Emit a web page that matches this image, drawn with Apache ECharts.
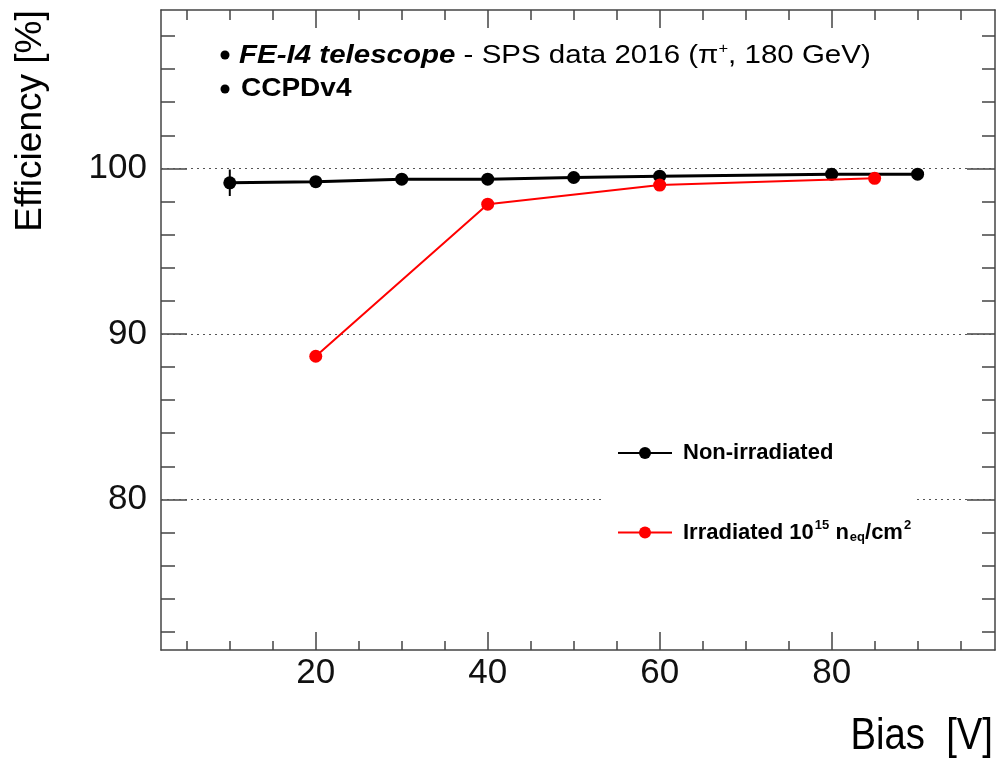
<!DOCTYPE html>
<html>
<head>
<meta charset="utf-8">
<script src="https://cdn.jsdelivr.net/npm/echarts@6/dist/echarts.min.js"></script>
<style>
  html, body { margin: 0; padding: 0; background: #fff; }
  #chart { width: 996px; height: 760px; }
</style>
</head>
<body>
<div id="chart"></div>
<script>
// ---- Data ----
const nonIrrBias = [10, 20, 30, 40, 50, 60, 80, 90];
const nonIrrEff  = [99.13, 99.2, 99.35, 99.35, 99.45, 99.53, 99.65, 99.65];
const nonIrrErr  = [0.8, 0.08, 0.08, 0.08, 0.08, 0.08, 0.08, 0.08];

const irrBias = [20, 40, 60, 85];
const irrEff  = [88.65, 97.84, 98.99, 99.4];
const irrErr  = [0.15, 0.12, 0.1, 0.1];

const xMajorTicks = [20, 40, 60, 80];
const xMinorTicks = [5, 10, 15, 25, 30, 35, 45, 50, 55, 65, 70, 75, 85, 90, 95];
const yMajorTicks = [80, 90, 100];
const yMinorTicks = [72, 74, 76, 78, 82, 84, 86, 88, 92, 94, 96, 98, 102, 104, 106, 108];
const gridValues  = [80, 90, 100];

const nameNon = 'Non-irradiated';
const nameIrr = 'Irradiated 10^15 n_eq/cm^2';

// ---- Chart ----
const chart = echarts.init(document.getElementById('chart'), null, { renderer: 'canvas' });
const FONT = "'Liberation Sans', Arial, Helvetica, sans-serif";
const AX = '#444';
const X_MIN = 2, X_MAX = 99, Y_MIN = 70.9, Y_MAX = 109.57;

function xAxisDef(position, ticks, len, labels, line) {
  return {
    type: 'value', position: position, min: X_MIN, max: X_MAX,
    axisLine: { show: line, onZero: false, lineStyle: { color: AX, width: 1.5 } },
    axisTick: { show: true, inside: true, length: len, customValues: ticks, lineStyle: { color: AX, width: 1.5 } },
    axisLabel: labels ? { show: true, customValues: ticks, fontFamily: FONT, fontSize: 35, color: '#111', margin: 6 } : { show: false },
    splitLine: { show: false }
  };
}
function yAxisDef(position, ticks, len, labels, line) {
  return {
    type: 'value', position: position, min: Y_MIN, max: Y_MAX,
    axisLine: { show: line, onZero: false, lineStyle: { color: AX, width: 1.5 } },
    axisTick: { show: true, inside: true, length: len, customValues: ticks, lineStyle: { color: AX, width: 1.5 } },
    axisLabel: labels ? { show: true, customValues: ticks, fontFamily: FONT, fontSize: 35, color: '#111', margin: 14 } : { show: false },
    splitLine: { show: false }
  };
}

function errorSeries(xs, ys, es, color) {
  return {
    type: 'custom', xAxisIndex: 0, yAxisIndex: 0, silent: true, z: 3,
    data: xs.map((x, i) => [x, ys[i] - es[i], ys[i] + es[i]]),
    renderItem: function (params, api) {
      const lo = api.coord([api.value(0), api.value(1)]);
      const hi = api.coord([api.value(0), api.value(2)]);
      return { type: 'line', shape: { x1: lo[0], y1: lo[1], x2: hi[0], y2: hi[1] }, style: { stroke: color, lineWidth: 2 } };
    }
  };
}

const option = {
  backgroundColor: '#fff',
  animation: false,
  grid: { left: 161, right: 1, top: 10, bottom: 110, containLabel: false },
  xAxis: [
    xAxisDef('bottom', xMajorTicks, 18, true, true),
    xAxisDef('bottom', xMinorTicks, 9, false, false),
    xAxisDef('top', xMajorTicks, 18, false, true),
    xAxisDef('top', xMinorTicks, 10, false, false)
  ],
  yAxis: [
    yAxisDef('left', yMajorTicks, 26, true, true),
    yAxisDef('left', yMinorTicks, 14, false, false),
    yAxisDef('right', yMajorTicks, 28, false, true),
    yAxisDef('right', yMinorTicks, 13, false, false)
  ],
  legend: {
    data: [nameNon, nameIrr],
    orient: 'vertical',
    left: 605, top: 432, z: 10,
    padding: [10, 2, 10, 12],
    itemGap: 55,
    itemWidth: 54, itemHeight: 15,
    backgroundColor: '#fff',
    selectedMode: false,
    formatter: function (name) {
      if (name === nameIrr) {
        return '{t|Irradiated 10}{sup|15}{t| n}{sub|eq}{t|/cm}{sup|2}';
      }
      return '{t|' + name + '}';
    },
    textStyle: {
      fontFamily: FONT, fontWeight: 'bold', fontSize: 22, color: '#000', padding: [0, 0, 0, 6],
      rich: {
        t: { fontFamily: FONT, fontWeight: 'bold', fontSize: 22, color: '#000', lineHeight: 30 },
        sup: { fontFamily: FONT, fontWeight: 'bold', fontSize: 13, color: '#000', lineHeight: 30, padding: [0, 0, 14, 1] },
        sub: { fontFamily: FONT, fontWeight: 'bold', fontSize: 13, color: '#000', lineHeight: 30, padding: [10, 0, 0, 1] }
      }
    }
  },
  series: [
    {
      name: 'grid', type: 'line', data: [], silent: true, z: 1,
      markLine: {
        silent: true, symbol: 'none', animation: false, z: 1,
        label: { show: false },
        lineStyle: { color: '#555', type: [2, 4], width: 1 },
        data: gridValues.map(v => ({ yAxis: v }))
      }
    },
    errorSeries(nonIrrBias, nonIrrEff, nonIrrErr, '#000'),
    errorSeries(irrBias, irrEff, irrErr, '#ff0000'),
    {
      name: nameNon, type: 'line', xAxisIndex: 0, yAxisIndex: 0, z: 4,
      data: nonIrrBias.map((x, i) => [x, nonIrrEff[i]]),
      symbol: 'circle', symbolSize: 13,
      lineStyle: { color: '#000', width: 3 },
      itemStyle: { color: '#000' }
    },
    {
      name: nameIrr, type: 'line', xAxisIndex: 0, yAxisIndex: 0, z: 5,
      data: irrBias.map((x, i) => [x, irrEff[i]]),
      symbol: 'circle', symbolSize: 13,
      lineStyle: { color: '#ff0000', width: 2 },
      itemStyle: { color: '#ff0000' }
    }
  ],
  graphic: [
    { type: 'circle', shape: { cx: 225, cy: 55, r: 4.5 }, style: { fill: '#000' } },
    { type: 'circle', shape: { cx: 225, cy: 89, r: 4.5 }, style: { fill: '#000' } },
    {
      type: 'text', x: 239, y: 56, scaleX: 1.18,
      style: {
        text: '{bi|FE-I4 telescope}{n| - SPS data 2016 (π}{sup|+}{n|, 180 GeV)}',
        verticalAlign: 'middle', align: 'left',
        rich: {
          bi: { fontFamily: FONT, fontWeight: 'bold', fontStyle: 'italic', fontSize: 25, fill: '#000', lineHeight: 30 },
          n: { fontFamily: FONT, fontSize: 25, fill: '#000', lineHeight: 30 },
          sup: { fontFamily: FONT, fontSize: 14, fill: '#000', lineHeight: 30, padding: [0, 0, 14, 0] }
        }
      }
    },
    {
      type: 'text', x: 241, y: 89, scaleX: 1.12,
      style: { text: 'CCPDv4', fontFamily: FONT, fontWeight: 'bold', fontSize: 25, fill: '#000', verticalAlign: 'middle', align: 'left' }
    },
    {
      type: 'text', x: 31, y: 121, rotation: Math.PI / 2,
      style: { text: 'Efficiency [%]', fontFamily: FONT, fontSize: 37, fill: '#000', align: 'center', verticalAlign: 'middle' }
    },
    {
      type: 'text', x: 993, y: 737, scaleX: 0.87,
      style: { text: 'Bias  [V]', fontFamily: FONT, fontSize: 44, fill: '#000', align: 'right', verticalAlign: 'middle' }
    }
  ]
};
chart.setOption(option);
</script>
</body>
</html>
